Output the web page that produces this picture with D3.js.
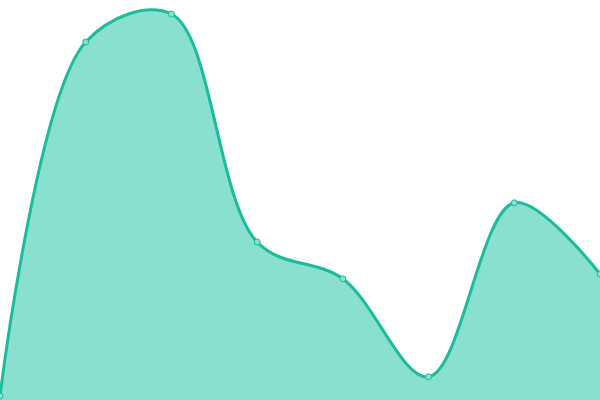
<!DOCTYPE html>
<html>
<head>
<meta charset="utf-8">
<script src="https://cdn.jsdelivr.net/npm/d3@7"></script>
<style>
  html, body { margin: 0; padding: 0; background: #fff; }
  svg { display: block; }
</style>
</head>
<body>
<div id="chart"></div>
<script>
const w = 600;
const h = 400;

const labels = ["A", "B", "C", "D", "E", "F", "G", "H"];
const values = [1, 89.5, 96.5, 39.5, 30.3, 5.8, 49.3, 31.5];

const svg = d3.select("#chart").append("svg").attr("width", w).attr("height", h);

const x = d3.scalePoint().domain(labels).range([0, w]);
const y = d3.scaleLinear().domain([0, 100]).range([h, 0]);

const data = labels.map((l, i) => ({ l, v: values[i] }));

const area = d3.area()
  .x((d) => x(d.l))
  .y0(h)
  .y1((d) => y(d.v))
  .curve(d3.curveCatmullRom);

const line = d3.line()
  .x((d) => x(d.l))
  .y((d) => y(d.v))
  .curve(d3.curveCatmullRom);

svg.append("path").datum(data).attr("d", area).attr("fill", "#8ae0cf");
svg.append("path").datum(data).attr("d", line)
  .attr("fill", "none").attr("stroke", "#1abc9c").attr("stroke-width", 3);

svg.selectAll("circle").data(data).enter().append("circle")
  .attr("cx", (d) => x(d.l))
  .attr("cy", (d) => y(d.v))
  .attr("r", 3)
  .attr("fill", "#8ae0cf")
  .attr("stroke", "#1abc9c")
  .attr("stroke-width", 1);
</script>
</body>
</html>
